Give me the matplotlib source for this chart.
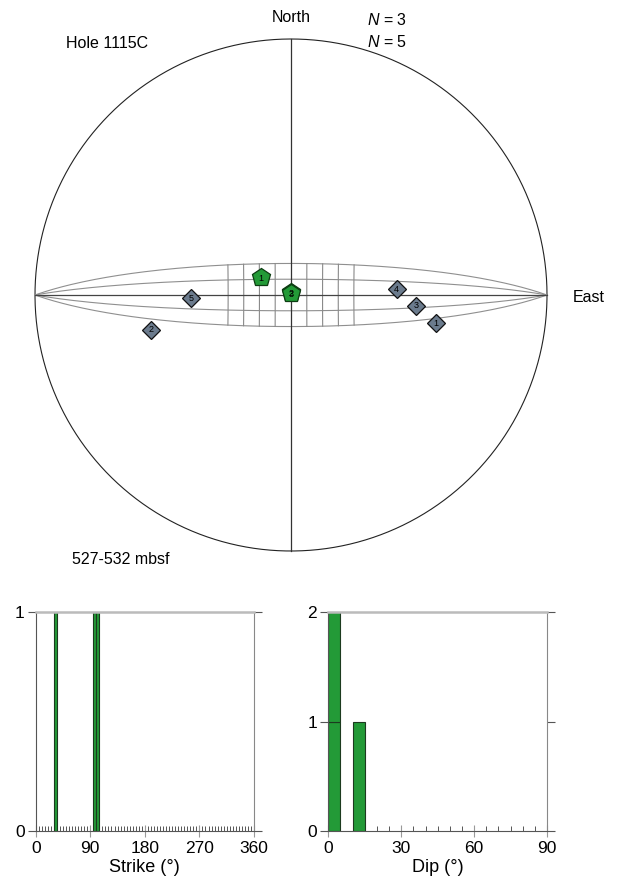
import numpy as np
import matplotlib
matplotlib.use("Agg")
import matplotlib.pyplot as plt

plt.rcParams['font.family'] = ['Liberation Sans', 'DejaVu Sans']
plt.rcParams['mathtext.fontset'] = 'custom'
plt.rcParams['mathtext.it'] = 'Liberation Sans:italic'
plt.rcParams['mathtext.rm'] = 'Liberation Sans'

# ---- data ----
plane_ids = ["1", "2", "3"]
plane_strike = [31, 97, 102]       # degrees (right-hand rule)
plane_dip = [11, 1, 0.5]           # degrees
line_ids = ["1", "2", "3", "4", "5"]
line_trend = [101, 256, 95, 87, 268]
line_plunge = [42, 43, 49.5, 56, 58]
strike_bins = np.arange(0, 365, 5)
dip_bins = np.arange(0, 95, 5)
strike_ticks = [0, 90, 180, 270, 360]
dip_ticks = [0, 30, 60, 90]

GREEN = '#239a37'
GRAY_BLUE = '#6b7b8d'

W, H = 617, 885
fig = plt.figure(figsize=(W / 100, H / 100), dpi=100)


def px_axes(x0, y0, x1, y1):
    return fig.add_axes([x0 / W, 1 - y1 / H, (x1 - x0) / W, (y1 - y0) / H])


def project(e, n, d):
    e, n, d = np.asarray(e, float), np.asarray(n, float), np.asarray(d, float)
    s = np.sqrt(1 + d)
    return e / s, n / s


def line_vec(trend, plunge):
    t, p = np.radians(trend), np.radians(plunge)
    return np.cos(p) * np.sin(t), np.cos(p) * np.cos(t), np.sin(p)


# ---- stereonet ----
cx, cy, R = 291, 295, 256
pad = 1.1
ax = px_axes(cx - pad * R, cy - pad * R, cx + pad * R, cy + pad * R)
ax.set_xlim(-pad, pad)
ax.set_ylim(-pad, pad)
ax.set_aspect('equal')
ax.axis('off')

th = np.linspace(0, 2 * np.pi, 400)
ax.plot(np.cos(th), np.sin(th), color='#222222', lw=0.8)

t = np.linspace(0, np.pi, 200)
# great circles through E-W axis
for dip in [80, 85]:
    dr = np.radians(dip)
    for sgn in [1, -1]:
        X, Y = project(np.cos(t), sgn * np.sin(t) * np.cos(dr), np.sin(t) * np.sin(dr))
        ax.plot(X, Y, color='#8f8f8f', lw=0.8)
# small circles about E-W axis
phi = np.radians(np.linspace(80, 100, 50))
for a in [70, 75, 80, 85, 95, 100, 105, 110]:
    ar = np.radians(a)
    X, Y = project(np.full_like(phi, np.cos(ar)), np.sin(ar) * np.cos(phi), np.sin(ar) * np.sin(phi))
    ax.plot(X, Y, color='#8a8a8a', lw=0.8)
# central cross
ax.plot([-1, 1], [0, 0], color='#444444', lw=0.9)
ax.plot([0, 0], [-1, 1], color='#333333', lw=0.9)

# lineations (diamonds)
for lid, tr, pl in zip(line_ids, line_trend, line_plunge):
    X, Y = project(*line_vec(tr, pl))
    ax.plot(X, Y, marker='D', ms=9.5, mfc=GRAY_BLUE, mec='#111111', mew=0.9, zorder=5)
    ax.text(X, Y, lid, fontsize=6.5, ha='center', va='center', zorder=6)

# poles to planes (pentagons)
for pid, st, dp in zip(plane_ids, plane_strike, plane_dip):
    X, Y = project(*line_vec((st + 90 + 180) % 360, 90 - dp))
    ax.plot(X, Y, marker='p', ms=13.5, mfc=GREEN, mec='#0d3d12', mew=0.9, zorder=7)
    ax.text(X, Y - 0.005, pid, fontsize=6.5, ha='center', va='center', zorder=8)

fs = 11.5
fig.text(291 / W, 1 - 18 / H, 'North', ha='center', va='center', fontsize=fs)
fig.text(573 / W, 1 - 298 / H, 'East', ha='left', va='center', fontsize=fs)
fig.text(66 / W, 1 - 43 / H, 'Hole 1115C', ha='left', va='center', fontsize=fs)
fig.text(367 / W, 1 - 20 / H, r'$\it{N}$ = %d' % len(plane_ids), ha='left', va='center', fontsize=fs)
fig.text(367 / W, 1 - 42 / H, r'$\it{N}$ = %d' % len(line_ids), ha='left', va='center', fontsize=fs)
fig.text(72 / W, 1 - 559 / H, '527-532 mbsf', ha='left', va='center', fontsize=fs)


# ---- histograms ----
def histo(axh, values, bins, ticks, xmax, label):
    counts, edges = np.histogram(values, bins=bins)
    for c, left, right in zip(counts, edges[:-1], edges[1:]):
        for k in range(c):
            axh.bar(left, 1, width=right - left, bottom=k, align='edge',
                    color=GREEN, edgecolor='#1c3a1f', lw=0.8, zorder=3)
    ymax = max(counts.max(), 1)
    axh.set_xlim(0, xmax)
    axh.set_ylim(0, ymax)
    axh.set_yticks(range(0, ymax + 1))
    axh.set_xticks(ticks)
    axh.set_xticks(bins, minor=True)
    axh.tick_params(axis='y', direction='out', length=6, color='#555555',
                    labelsize=12.5, right=True, left=True, width=0.8, pad=2)
    axh.tick_params(axis='x', which='major', direction='inout', length=8,
                    color='#999999', labelsize=12.5, width=0.8, pad=3)
    axh.tick_params(axis='x', which='minor', direction='in', length=3.5,
                    color='#555555', width=0.7)
    axh.spines['top'].set_color('#bbbbbb')
    axh.spines['top'].set_linewidth(1.8)
    axh.spines['left'].set_color('#555555')
    axh.spines['bottom'].set_color('#555555')
    axh.spines['right'].set_color('#888888')
    for s in axh.spines.values():
        s.set_zorder(4)
    axh.set_xlabel(label, fontsize=13, labelpad=2)


ax1 = px_axes(35.7, 612, 254, 831)
histo(ax1, plane_strike, strike_bins, strike_ticks, 360, 'Strike (°)')
ax2 = px_axes(328.3, 612, 547, 831)
histo(ax2, plane_dip, dip_bins, dip_ticks, 90, 'Dip (°)')

fig.savefig('out.png', dpi=100)
